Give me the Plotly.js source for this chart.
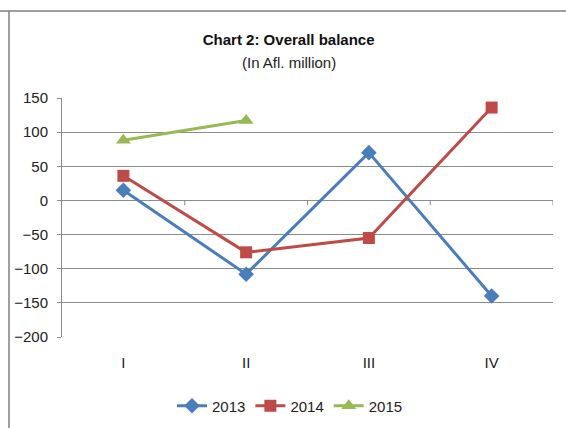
<!DOCTYPE html>
<html>
<head>
<meta charset="utf-8">
<script src="https://cdn.plot.ly/plotly-3.0.1.min.js"></script>
<style>
html,body{margin:0;padding:0;background:#fff;}
#chart{width:566px;height:428px;}
</style>
</head>
<body>
<div id="chart"></div>
<script>
const quarters = ["I", "II", "III", "IV"];
const series2013 = [15, -108, 70, -140];
const series2014 = [36, -76, -55, 136];
const series2015 = [88, 117];
const quarters2015 = ["I", "II"];
const yTicks = [-200, -150, -100, -50, 0, 50, 100, 150];

const FONT = "'Liberation Sans Narrow', 'Liberation Sans', Arial, sans-serif";

const traces = [
  {x: quarters, y: series2013, name: "2013", type: "scatter", mode: "lines+markers",
   line: {color: "#4A7EBB", width: 3}, marker: {symbol: "diamond", size: 12, color: "#4A7EBB"}},
  {x: quarters, y: series2014, name: "2014", type: "scatter", mode: "lines+markers",
   line: {color: "#BE4B48", width: 3}, marker: {symbol: "square", size: 12, color: "#BE4B48"}},
  {x: quarters2015, y: series2015, name: "2015", type: "scatter", mode: "lines+markers",
   line: {color: "#98B954", width: 3}, marker: {symbol: "triangle-up", size: 13, color: "#98B954"}}
];

const tickShapes = [0.5, 1.5, 2.5, 3.5].map(v => ({
  type: "line", xref: "x", yref: "y", x0: v, x1: v, y0: 0, y1: -7,
  line: {color: "#868686", width: 1}
}));

const layout = {
  width: 566, height: 428,
  margin: {l: 62, r: 13, t: 98, b: 91, autoexpand: false},
  paper_bgcolor: "#fff", plot_bgcolor: "#fff",
  font: {family: FONT, size: 15, color: "#222"},
  title: {text: "<b>Chart 2: Overall balance</b>", x: 0.51, xanchor: "center",
          yref: "container", y: 1 - 40/428, yanchor: "middle",
          font: {family: FONT, size: 15, color: "#111"}},
  annotations: [{text: "(In Afl. million)", xref: "paper", yref: "paper", x: 0.463, y: 1 + 36/239,
                 xanchor: "center", yanchor: "middle", showarrow: false,
                 font: {family: FONT, size: 15, color: "#222"}}],
  xaxis: {type: "category", categoryarray: quarters, categoryorder: "array",
          range: [-0.5, 3.5], showgrid: false, zeroline: false, showline: false,
          ticks: "", ticklabelstandoff: 15, tickfont: {family: FONT, size: 15}, fixedrange: true,
          automargin: false},
  yaxis: {range: [-200, 150], tickvals: yTicks, showgrid: true, gridcolor: "#8C8C8C", gridwidth: 1,
          zeroline: false, showline: true, linecolor: "#8C8C8C", linewidth: 1,
          ticks: "outside", ticklen: 4, tickcolor: "#8C8C8C",
          ticklabelstandoff: 6, tickfont: {family: FONT, size: 15}, fixedrange: true,
          automargin: false},
  legend: {orientation: "h", xref: "container", x: 290/566, xanchor: "center",
           yref: "container", y: 1 - 406/428, yanchor: "middle",
           font: {family: FONT, size: 15}, itemwidth: 30, tracegroupgap: 0},
  shapes: tickShapes.concat([
    {type: "line", xref: "paper", yref: "paper", x0: -62/491, x1: (566-62)/491, y0: 1 + 87/239, y1: 1 + 87/239,
     line: {color: "#7F7F7F", width: 1.5}},
    {type: "line", xref: "paper", yref: "paper", x0: -53/491, x1: -53/491, y0: 1 + 87/239, y1: -91/239,
     line: {color: "#7F7F7F", width: 1.5}}
  ]),
  showlegend: true
};

Plotly.newPlot("chart", traces, layout, {displayModeBar: false, staticPlot: true});
</script>
</body>
</html>
